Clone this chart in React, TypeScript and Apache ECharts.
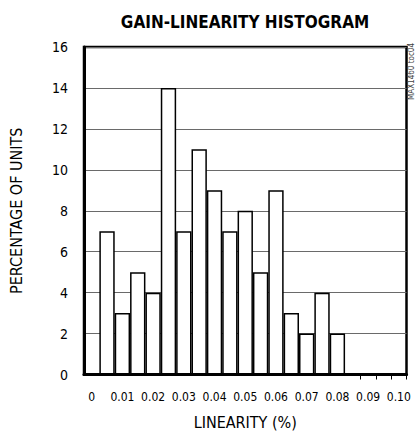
import React, { useEffect, useRef } from "react";
import * as echarts from "echarts";

const categories = [
  "0", "0.005", "0.01", "0.015", "0.02", "0.025", "0.03", "0.035", "0.04", "0.045",
  "0.05", "0.055", "0.06", "0.065", "0.07", "0.075", "0.08", "0.085", "0.09", "0.095", "0.10",
];
const percentages = [0, 7, 3, 5, 4, 14, 7, 11, 9, 7, 8, 5, 9, 3, 2, 4, 2, 0, 0, 0, 0];
const tickedBoundaries = [18, 19, 20];

const FONT = '"Liberation Sans Narrow", "DejaVu Sans Condensed", "Roboto", sans-serif';

export default function App() {
  const ref = useRef<HTMLDivElement>(null);
  useEffect(() => {
    if (!ref.current) return;
    const chart = echarts.init(ref.current, null, { renderer: "svg" });
    chart.setOption({
      animation: false,
      backgroundColor: "#fff",
      title: {
        text: "GAIN-LINEARITY HISTOGRAM",
        left: 240,
        top: 8,
        textAlign: "center",
        textStyle: { fontFamily: FONT, fontWeight: "bold", fontSize: 17, color: "#000" },
      },
      graphic: [
        {
          type: "text",
          x: 407,
          y: 100,
          rotation: Math.PI / 2,
          style: {
            text: "MAX1460 toc04",
            fontFamily: FONT,
            fontSize: 8,
            fill: "#444",
            textAlign: "left",
            textVerticalAlign: "top",
          },
        },
      ],
      grid: {
        left: 78,
        right: 9.5,
        top: 47,
        bottom: 63.5,
        show: true,
        borderColor: "#000",
        borderWidth: 2.5,
      },
      xAxis: {
        type: "category",
        data: categories,
        boundaryGap: true,
        name: "LINEARITY (%)",
        nameLocation: "middle",
        nameGap: 40,
        nameTextStyle: { fontFamily: FONT, fontSize: 16, color: "#000" },
        axisLine: { show: true, lineStyle: { color: "#000", width: 3 } },
        axisTick: {
          show: true,
          length: 5,
          interval: (index: number) => tickedBoundaries.includes(index),
          lineStyle: { color: "#000", width: 1 },
        },
        axisLabel: {
          interval: 1,
          margin: 16,
          fontFamily: FONT,
          fontSize: 12,
          color: "#000",
        },
        splitLine: { show: false },
      },
      yAxis: {
        type: "value",
        min: 0,
        max: 16,
        interval: 2,
        name: "PERCENTAGE OF UNITS",
        nameLocation: "middle",
        nameGap: 60,
        nameTextStyle: { fontFamily: FONT, fontSize: 16, color: "#000" },
        axisLine: { show: true, lineStyle: { color: "#000", width: 3 } },
        axisTick: { show: false },
        axisLabel: { margin: 16, fontFamily: FONT, fontSize: 14, color: "#000" },
        splitLine: { show: true, lineStyle: { color: "#6a6a6a", width: 1 } },
      },
      series: [
        {
          type: "bar",
          data: percentages,
          barCategoryGap: "0%",
          itemStyle: { color: "#fff", borderColor: "#000", borderWidth: 1.5 },
        },
      ],
    });
    return () => chart.dispose();
  }, []);
  return (
    <div
      ref={ref}
      style={{ position: "fixed", left: 0, top: 0, width: 416, height: 438 }}
    />
  );
}
